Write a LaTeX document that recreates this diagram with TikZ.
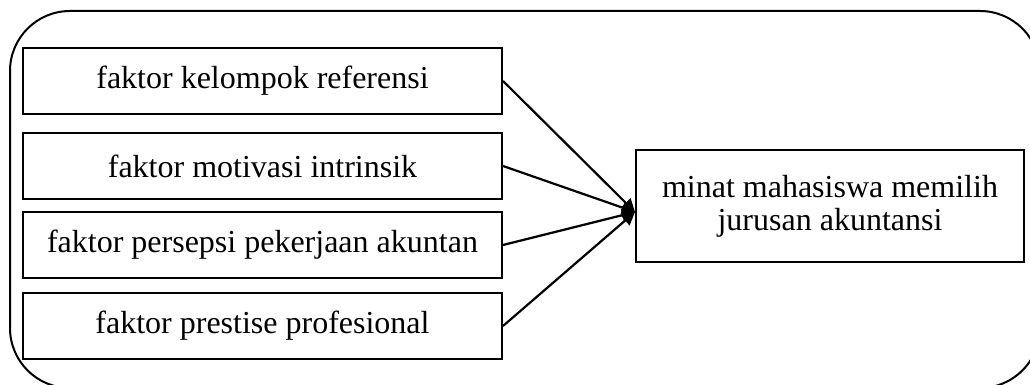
\documentclass[tikz,border=0pt]{standalone}
\usepackage{fontspec}
\setmainfont{Liberation Serif}
\usetikzlibrary{arrows.meta}
\begin{document}
\begin{tikzpicture}[x=1pt,y=1pt,
  box/.style={draw,line width=2pt,minimum width=479pt,minimum height=66pt,inner sep=0pt,font=\fontsize{32}{33}\selectfont},
  conn/.style={line width=2.2pt,-{Triangle[length=13pt,width=13pt]}}]
\useasboundingbox (0,0) rectangle (1030,385);
\draw[line width=2pt,rounded corners=60pt] (10,374) rectangle (1040,-3);
\node[box] (f1) at (262.5,304) {faktor kelompok referensi};
\node[box] (f2) at (262.5,219) {faktor motivasi intrinsik};
\node[box] (f3) at (262.5,140) {faktor persepsi pekerjaan akuntan};
\node[box] (f4) at (262.5,59) {faktor prestise profesional};
\node[box,minimum width=388pt,minimum height=112pt,align=center] (m) at (830,179) {minat mahasiswa memilih\\jurusan akuntansi};
\coordinate (tip) at ([yshift=-6pt]m.west);
\draw[conn] (f1.east) -- (tip);
\draw[conn] (f2.east) -- (tip);
\draw[conn] (f3.east) -- (tip);
\draw[conn] (f4.east) -- (tip);
\end{tikzpicture}
\end{document}
